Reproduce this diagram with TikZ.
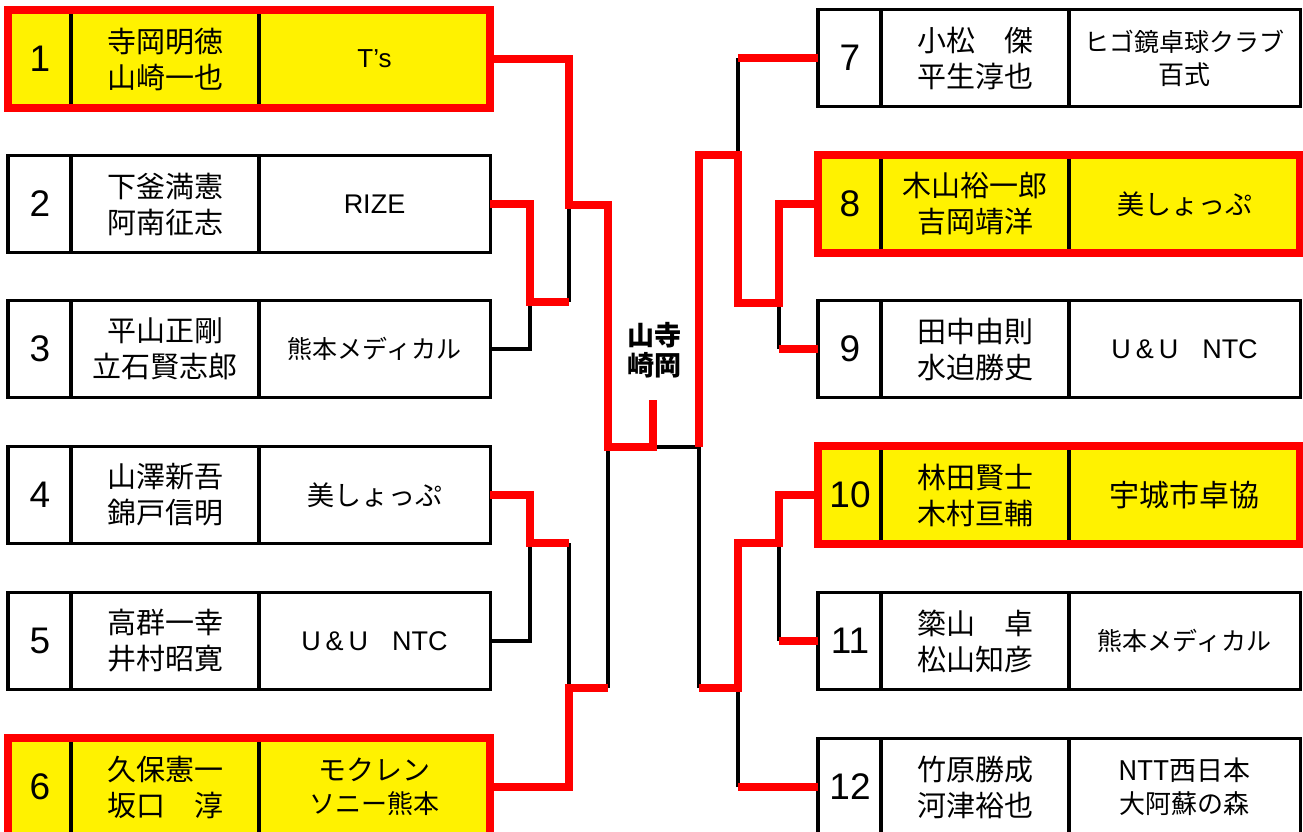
\documentclass[tikz,border=0pt]{standalone}
\usepackage{fontspec}
\setmainfont{Liberation Sans}
\newfontfamily\jp{Noto Sans CJK JP}
\newfontfamily\lat{Liberation Sans}
\newcommand\fsz[2]{\fontsize{#1}{#2}\selectfont}
\tikzset{
  win fill/.style={fill=yellow, draw=none},
  plain fill/.style={fill=white, draw=none},
  win border/.style={draw=red, line width=8pt},
  plain border/.style={draw=black, line width=3.5pt},
  divider/.style={draw=black, line width=3.5pt},
  numtxt/.style={font=\lat\fsz{37}{40}, inner sep=0pt},
  plytxt/.style={font=\jp\fsz{29}{36}, align=center, inner sep=0pt},
  teamtxt/.style={font=\jp\fsz{26}{33}, align=center, inner sep=0pt},
  redln/.style={draw=red, line width=7.5pt, line join=miter},
  blkln/.style={draw=black, line width=3.5pt, line join=miter},
  midtxt/.style={font=\jp\bfseries\fsz{27}{30}, align=center, inner sep=0pt}
}
\newcommand\entry[7]{%
  \node[#4 fill, minimum width=482pt, minimum height=97pt, inner sep=0pt, anchor=west] (#1) at (#2,#3) {};
  \draw[divider] ([xshift=63pt]#1.north west) -- ([xshift=63pt]#1.south west);
  \draw[divider] ([xshift=251pt]#1.north west) -- ([xshift=251pt]#1.south west);
  \draw[#4 border] (#1.north west) rectangle (#1.south east);
  \node[numtxt] (#1-num) at ([xshift=32pt]#1.west) {#5};
  \node[plytxt] (#1-ply) at ([xshift=157pt]#1.west) {#6};
  \node[teamtxt] (#1-team) at ([xshift=366.5pt]#1.west) {#7};
}
\begin{document}
\begin{tikzpicture}[x=1pt, y=-1pt]
\useasboundingbox (0,0) rectangle (1303,831);
\fill[white] (0,0) rectangle (1303,831);

% left side
\entry{b1}{8}{59}{win}{1}{寺岡明徳\\山崎一也}{\lat\fsz{26}{30}T’s}
\entry{b2}{8}{204}{plain}{2}{下釜満憲\\阿南征志}{\lat\fsz{27}{30}RIZE}
\entry{b3}{8}{349}{plain}{3}{平山正剛\\立石賢志郎}{\fsz{25}{30}熊本メディカル}
\entry{b4}{8}{495}{plain}{4}{山澤新吾\\錦戸信明}{\fsz{27}{30}美しょっぷ}
\entry{b5}{8}{641}{plain}{5}{高群一幸\\井村昭寛}{\lat\fsz{27}{30}U\hspace{5pt}\&\hspace{5pt}U\hspace{24pt}NTC}
\entry{b6}{8}{787}{win}{6}{久保憲一\\坂口　淳}{\fsz{28}{33}モクレン\\ソニー熊本}

% right side
\entry{b7}{818}{58}{plain}{7}{小松　傑\\平生淳也}{\fsz{25}{32}ヒゴ鏡卓球クラブ\\百式}
\entry{b8}{818}{204}{win}{8}{木山裕一郎\\吉岡靖洋}{\fsz{27}{30}美しょっぷ}
\entry{b9}{818}{349}{plain}{9}{田中由則\\水迫勝史}{\lat\fsz{27}{30}U\hspace{5pt}\&\hspace{5pt}U\hspace{24pt}NTC}
\entry{b10}{818}{495}{win}{10}{林田賢士\\木村亘輔}{\fsz{30}{33}宇城市卓協}
\entry{b11}{818}{641}{plain}{11}{簗山　卓\\松山知彦}{\fsz{25}{30}熊本メディカル}
\entry{b12}{818}{787}{plain}{12}{竹原勝成\\河津裕也}{\fsz{27}{32}NTT西日本\\大阿蘇の森}

% junctions
\coordinate (m23) at (530,302);
\coordinate (m45) at (530,543);
\coordinate (q1) at (569,205);
\coordinate (q2) at (569,688);
\coordinate (sL) at (608,447);
\coordinate (fin) at (653,447);
\coordinate (finTop) at (653,400);
\coordinate (m89) at (779,303);
\coordinate (m1011) at (779,543);
\coordinate (q3) at (738,155);
\coordinate (q4) at (738,688);
\coordinate (sR) at (699,447);

% black connectors
\draw[blkln] (m23 -| q1) -- (q1);
\draw[blkln] (b3.east) -| (m23);
\draw[blkln] (b5.east) -| (m45);
\draw[blkln] (m45 -| q2) -- (q2);
\draw[blkln] (q2 -| sL) -- (sL);
\draw[blkln] (fin) -- (sR);
\draw[blkln] (b7.west -| q3) -- (q3);
\draw[blkln] (b9.west -| m89) -- (m89);
\draw[blkln] (q4 -| sR) -- (sR);
\draw[blkln] (b11.west -| m1011) -- (m1011);
\draw[blkln] (b12.west -| q4) -- (q4);

% red connectors
\draw[redln] (b1.east) -| (q1) -| (sL) -- (fin) -- (finTop);
\draw[redln] (b2.east) -| (m23) -- (m23 -| q1);
\draw[redln] (b4.east) -| (m45) -- (m45 -| q2);
\draw[redln] (b6.east) -| (q2) -- (q2 -| sL);
\draw[redln] (b7.west) -- (b7.west -| q3);
\draw[redln] (b8.west) -| (m89) -- (m89 -| q3) -- (q3) -| (sR);
\draw[redln] (b9.west) -- (b9.west -| m89);
\draw[redln] (b10.west) -| (m1011) -- (m1011 -| q4) -- (q4) -- (q4 -| sR);
\draw[redln] (b11.west) -- (b11.west -| m1011);
\draw[redln] (b12.west) -- (b12.west -| q4);

\node[midtxt] (label) at (654,350) {山寺\\崎岡};
\end{tikzpicture}
\end{document}
